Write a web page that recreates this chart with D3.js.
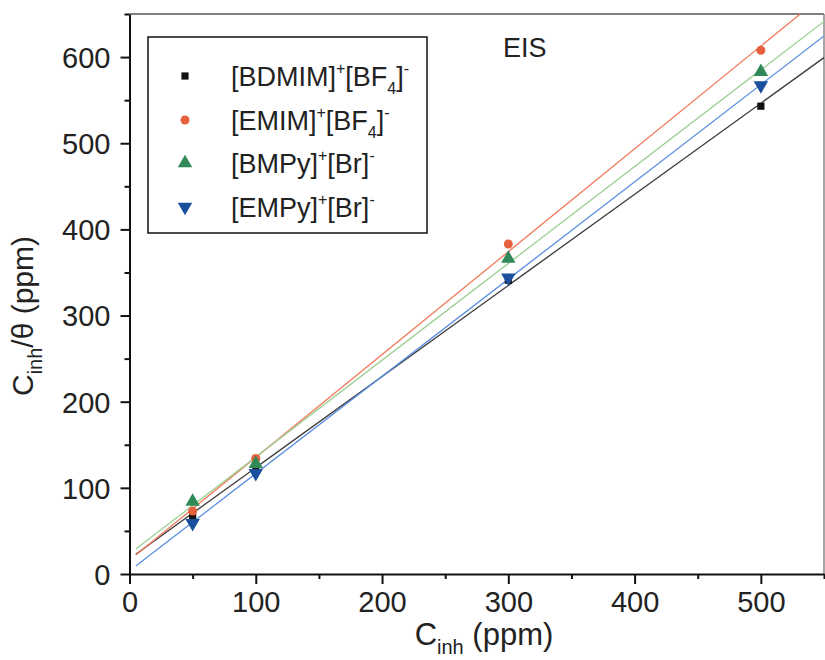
<!DOCTYPE html>
<html>
<head>
<meta charset="utf-8">
<script src="https://cdn.jsdelivr.net/npm/d3@7"></script>
<style>
  html, body { margin: 0; padding: 0; background: #fff; }
  svg { display: block; }
  text { font-family: "Liberation Sans", Arial, sans-serif; fill: #222; }
</style>
</head>
<body>
<svg id="chart" width="825" height="660"></svg>
<script>
// ---- data ----
const concentrations = [50, 100, 300, 500];
const valuesBDMIM = [67, 124.5, 341, 543];
const valuesEMIM  = [73, 134, 383, 608];
const valuesBMPy  = [84, 128, 366, 583];
const valuesEMPy  = [59, 117, 344, 567];
const seriesKeys = ["BDMIM", "EMIM", "BMPy", "EMPy"];
const legendLabels = [
  [["[BDMIM]", ""], ["+", "sup"], ["[BF", ""], ["4", "sub"], ["]", ""], ["-", "sup"]],
  [["[EMIM]", ""], ["+", "sup"], ["[BF", ""], ["4", "sub"], ["]", ""], ["-", "sup"]],
  [["[BMPy]", ""], ["+", "sup"], ["[Br]", ""], ["-", "sup"]],
  [["[EMPy]", ""], ["+", "sup"], ["[Br]", ""], ["-", "sup"]]
];
const xMajorTicks = [0, 100, 200, 300, 400, 500];
const xMinorTicks = [50, 150, 250, 350, 450, 550];
const yMajorTicks = [0, 100, 200, 300, 400, 500, 600];
const yMinorTicks = [50, 150, 250, 350, 450, 550, 650];
const fitRange = [5, 550];
const annotation = "EIS";

// ---- styles ----
const markerColors = ["#111111", "#e5603d", "#2f8a58", "#1a4f9e"];
const lineColors   = ["#3a3a3a", "#f07a5a", "#9ccf94", "#5b8fe0"];
const symbols = [d3.symbolSquare, d3.symbolCircle, d3.symbolTriangle, d3.symbolTriangle];
const symbolSizes = [52, 64, 90, 90];
const symbolRot = [0, 0, 0, 180];

const allValues = [valuesBDMIM, valuesEMIM, valuesBMPy, valuesEMPy];
const series = seriesKeys.map((k, i) => ({
  key: k,
  points: concentrations.map((c, j) => ({ x: c, y: allValues[i][j] }))
}));

const svg = d3.select("#chart");
const x = d3.scaleLinear().domain([0, 550]).range([129.5, 824]);
const y = d3.scaleLinear().domain([0, 650]).range([574, 14]);

// frame (top and right)
svg.append("line").attr("x1", x(0)).attr("x2", x(550)).attr("y1", y(650)).attr("y2", y(650))
  .attr("stroke", "#555").attr("stroke-width", 1.5);
svg.append("line").attr("x1", x(550)).attr("x2", x(550)).attr("y1", y(650)).attr("y2", y(0))
  .attr("stroke", "#888").attr("stroke-width", 1.5);

// clip
svg.append("clipPath").attr("id", "plotclip").append("rect")
  .attr("x", x(0)).attr("y", y(650)).attr("width", x(550) - x(0)).attr("height", y(0) - y(650));

// linear fits
function linFit(pts) {
  const mx = d3.mean(pts, d => d.x), my = d3.mean(pts, d => d.y);
  let sxx = 0, sxy = 0;
  pts.forEach(d => { sxx += (d.x - mx) ** 2; sxy += (d.x - mx) * (d.y - my); });
  const b = sxy / sxx;
  return { b, a: my - b * mx };
}
const line = d3.line().x(d => x(d[0])).y(d => y(d[1]));
const gLines = svg.append("g").attr("clip-path", "url(#plotclip)");
series.forEach((s, i) => {
  const f = linFit(s.points);
  gLines.append("path")
    .attr("d", line(fitRange.map(v => [v, f.a + f.b * v])))
    .attr("fill", "none").attr("stroke", lineColors[i]).attr("stroke-width", 1.3);
});

// markers
series.forEach((s, i) => {
  const sym = d3.symbol().type(symbols[i]).size(symbolSizes[i]);
  svg.append("g").selectAll("path").data(s.points).join("path")
    .attr("d", sym)
    .attr("transform", d => `translate(${x(d.x)},${y(d.y)}) rotate(${symbolRot[i]})`)
    .attr("fill", markerColors[i]);
});

// axes
const fontSize = 29;
svg.append("g").attr("transform", `translate(0,${y(0)})`)
  .call(d3.axisBottom(x).tickValues(xMajorTicks).tickSize(10).tickSizeOuter(0).tickPadding(7).tickFormat(d3.format("d")));
svg.append("g").attr("transform", `translate(0,${y(0)})`)
  .call(d3.axisBottom(x).tickValues(xMinorTicks).tickSize(5).tickSizeOuter(0).tickFormat(""))
  .select(".domain").remove();
const yAxis = svg.append("g").attr("transform", `translate(${x(0)},0)`)
  .call(d3.axisLeft(y).tickValues(yMajorTicks).tickSize(9).tickSizeOuter(0).tickPadding(10).tickFormat(d3.format("d")));
svg.append("g").attr("transform", `translate(${x(0)},0)`)
  .call(d3.axisLeft(y).tickValues(yMinorTicks).tickSize(5).tickSizeOuter(0).tickFormat(""))
  .select(".domain").remove();
svg.selectAll(".domain").attr("stroke", "#111").attr("stroke-width", 2);
svg.selectAll(".tick line").attr("stroke", "#111").attr("stroke-width", 2);
svg.selectAll(".tick text").attr("font-size", fontSize).attr("font-family", "Liberation Sans, Arial, sans-serif").attr("fill", "#222");
yAxis.selectAll(".tick text").attr("dy", "0.36em");

// axis titles
const xt = svg.append("text").attr("x", 484).attr("y", 645).attr("text-anchor", "middle").attr("font-size", 31);
xt.append("tspan").text("C");
xt.append("tspan").attr("font-size", 20).attr("dy", 9).text("inh");
xt.append("tspan").attr("dy", -9).text(" (ppm)");

const yt = svg.append("text").attr("transform", "translate(33,316) rotate(-90)").attr("text-anchor", "middle").attr("font-size", 30);
yt.append("tspan").text("C");
yt.append("tspan").attr("font-size", 20).attr("dy", 9).text("inh");
yt.append("tspan").attr("dy", -9).text("/θ (ppm)");

// annotation
svg.append("text").attr("x", 503).attr("y", 57).attr("font-size", 27).text(annotation);

// legend
const lg = svg.append("g");
lg.append("rect").attr("x", 148).attr("y", 37).attr("width", 279).attr("height", 196)
  .attr("fill", "#fff").attr("stroke", "#111").attr("stroke-width", 1.5);
const rowY = [76, 120, 163, 207];
legendLabels.forEach((parts, i) => {
  const sym = d3.symbol().type(symbols[i]).size(symbolSizes[i]);
  lg.append("path").attr("d", sym)
    .attr("transform", `translate(185,${rowY[i]}) rotate(${symbolRot[i]})`)
    .attr("fill", markerColors[i]);
  const t = lg.append("text").attr("x", 231).attr("y", rowY[i] + 10).attr("font-size", 27);
  let off = 0;
  parts.forEach(([txt, kind]) => {
    const target = kind === "sup" ? -12 : kind === "sub" ? 8 : 0;
    const ts = t.append("tspan").attr("dy", target - off).text(txt);
    if (kind) ts.attr("font-size", 16);
    off = target;
  });
});
</script>
</body>
</html>
